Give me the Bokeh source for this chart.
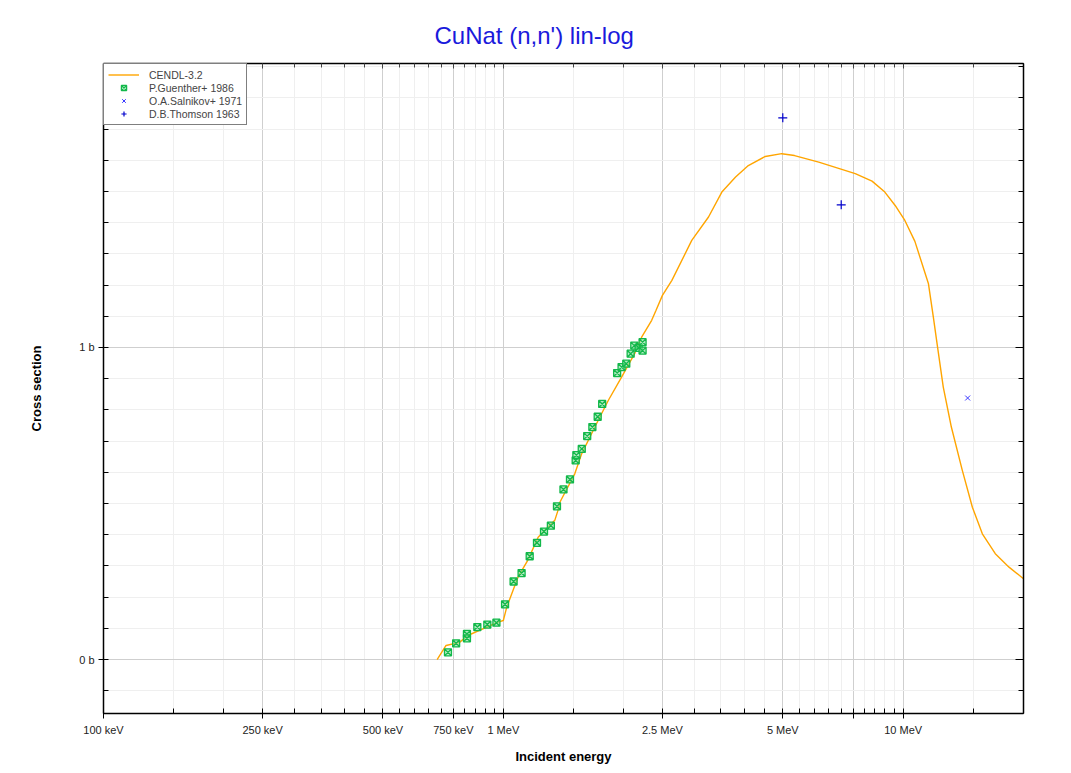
from bokeh.plotting import figure
from bokeh.models import (FixedTicker, LogAxis, LinearAxis, Legend, LegendItem, Range1d)
from bokeh.embed import file_html
from bokeh.resources import INLINE

# ---------------- data (energies in keV, cross sections in barn) ----------------
cendl_e = [683, 719, 777, 815, 970, 1000, 1020, 1088, 1150, 1222, 1345, 1370, 1385, 1509, 1570,
           1694, 1830, 1976, 2130, 2218, 2350, 2410, 2500, 2640, 2960, 3260, 3520, 3810, 4100,
           4520, 4970, 5350, 6150, 7590, 8360, 9000, 9550, 10100, 10700, 11570, 11900, 12200,
           12600, 13200, 14060, 14900, 15780, 17000, 18400, 20000]
cendl_xs = [0.0, 0.045, 0.055, 0.077, 0.12, 0.125, 0.168, 0.264, 0.317, 0.392, 0.446, 0.478, 0.504,
            0.595, 0.659, 0.745, 0.83, 0.905, 0.98, 1.033, 1.087, 1.119, 1.167, 1.215, 1.343, 1.418,
            1.498, 1.546, 1.583, 1.612, 1.621, 1.615, 1.594, 1.557, 1.533, 1.498, 1.455, 1.407,
            1.34, 1.204, 1.097, 0.999, 0.873, 0.745, 0.606, 0.488, 0.403, 0.339, 0.296, 0.259]

guenther_e = [727, 762, 811, 811, 861, 912, 961, 1010, 1061, 1111, 1164, 1214, 1264, 1315, 1362,
              1414, 1468, 1517, 1523, 1571, 1621, 1670, 1722, 1767, 1926, 1976, 2030, 2082, 2126,
              2180, 2230, 2230]
guenther_xs = [0.023, 0.052, 0.082, 0.068, 0.104, 0.112, 0.118, 0.177, 0.25, 0.277, 0.331, 0.374,
               0.41, 0.429, 0.491, 0.545, 0.577, 0.638, 0.655, 0.675, 0.716, 0.745, 0.778, 0.819,
               0.918, 0.937, 0.948, 0.98, 1.006, 0.999, 1.017, 0.99]

salnikov_e = [14500]
salnikov_xs = [0.838]

thomson_e = [5000, 7000]
thomson_xs = [1.736, 1.457]

x_major = [100, 250, 500, 750, 1000, 2500, 5000, 7500, 10000]
x_major_labels = ["100 keV", "250 keV", "500 keV", "750 keV", "1 MeV", "2.5 MeV", "5 MeV", "", "10 MeV"]
x_minor = [150, 200, 300, 350, 400, 450, 550, 600, 650, 700, 800, 850, 900, 950,
           1500, 2000, 3000, 3500, 4000, 4500, 5500, 6000, 6500, 7000, 8000, 8500, 9000, 9500, 15000]
y_major = [0, 1]
y_major_labels = ["0 b", "1 b"]
y_minor = [-0.1, 0.1, 0.2, 0.3, 0.4, 0.5, 0.6, 0.7, 0.8, 0.9,
           1.1, 1.2, 1.3, 1.4, 1.5, 1.6, 1.7, 1.8, 1.9]

FONT = "Liberation Sans"

p = figure(width=1060, height=769, x_axis_type="log",
           x_range=Range1d(100, 20000), y_range=Range1d(-0.173, 1.91),
           output_backend="svg", toolbar_location=None,
           min_border_left=103, min_border_top=63, min_border_right=37, min_border_bottom=56,
           title="CuNat (n,n') lin-log")

p.title.text_font = FONT
p.title.text_font_size = "24px"
p.title.text_font_style = "normal"
p.title.text_color = "#1a1adc"
p.title.align = "left"
p.title.offset = 331
p.title.standoff = 29

p.outline_line_color = "black"
p.outline_line_width = 1

xt = FixedTicker(ticks=x_major, minor_ticks=x_minor)
yt = FixedTicker(ticks=y_major, minor_ticks=y_minor)

xa = p.xaxis[0]
xa.ticker = xt
xa.major_label_overrides = {k: v for k, v in zip(x_major, x_major_labels)}
xa.axis_label = "Incident energy"
ya = p.yaxis[0]
ya.ticker = yt
ya.major_label_overrides = {k: v for k, v in zip(y_major, y_major_labels)}
ya.axis_label = "Cross section"

for ax in (xa, ya):
    ax.axis_line_color = "black"
    ax.axis_line_width = 1.5
    ax.major_tick_line_color = "black"
    ax.minor_tick_line_color = "black"
    ax.major_tick_in = 5
    ax.major_tick_out = 5
    ax.minor_tick_in = 5
    ax.minor_tick_out = 0
    ax.major_label_text_font = FONT
    ax.major_label_text_font_size = "11px"
    ax.major_label_text_color = "#222222"
    ax.axis_label_text_font = FONT
    ax.axis_label_text_font_size = "13px"
    ax.axis_label_text_font_style = "bold"
    ax.axis_label_text_color = "black"
xa.major_label_standoff = 5
xa.axis_label_standoff = 10
ya.major_label_standoff = 4
ya.axis_label_standoff = 32

top = LogAxis(ticker=xt, major_label_text_font_size="0px", axis_line_color="black",
              axis_line_width=1.5, major_tick_in=5, major_tick_out=0, minor_tick_in=4,
              minor_tick_out=0, major_tick_line_color="#444444", minor_tick_line_color="#444444",
              major_label_standoff=0)
p.add_layout(top, "above")
right = LinearAxis(ticker=yt, major_label_text_font_size="0px", axis_line_color="black",
                   axis_line_width=1.5, major_tick_in=8, major_tick_out=0, minor_tick_in=5,
                   minor_tick_out=0, major_label_standoff=0)
p.add_layout(right, "right")

p.xgrid.grid_line_color = "#cfcfcf"
p.xgrid.minor_grid_line_color = "#efefef"
p.ygrid.grid_line_color = "#cfcfcf"
p.ygrid.minor_grid_line_color = "#efefef"

r_cendl = p.line(cendl_e, cendl_xs, line_color="orange", line_width=1.4)
r_g = p.scatter(guenther_e, guenther_xs, marker="square_x", size=7,
                line_color="#12b84a", fill_color="#7fdc9a", fill_alpha=0.6, line_width=1.3)
r_s = p.scatter(salnikov_e, salnikov_xs, marker="x", size=7, line_color="#3a3aff", line_width=1)
r_t = p.scatter(thomson_e, thomson_xs, marker="cross", size=9, line_color="#0000cc", line_width=1.2)

legend = Legend(items=[LegendItem(label="CENDL-3.2", renderers=[r_cendl]),
                       LegendItem(label="P.Guenther+ 1986", renderers=[r_g]),
                       LegendItem(label="O.A.Salnikov+ 1971", renderers=[r_s]),
                       LegendItem(label="D.B.Thomson 1963", renderers=[r_t])],
                location="top_left", margin=0, padding=4, spacing=0,
                glyph_width=31, glyph_height=13, label_height=13, label_standoff=10,
                label_text_font=FONT, label_text_font_size="10.5px",
                border_line_color="black", border_line_width=1.2,
                background_fill_color="white", background_fill_alpha=1)
p.add_layout(legend)

open("out.html", "w").write(file_html(p, INLINE))
